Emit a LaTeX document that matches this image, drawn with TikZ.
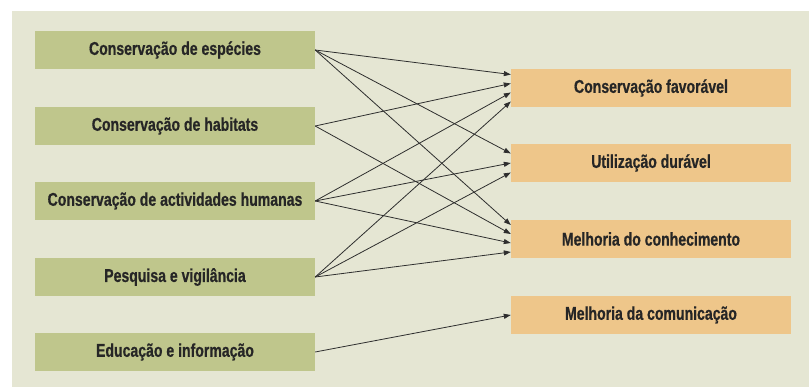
\documentclass[tikz,border=0pt]{standalone}
\usepackage{fontspec}
\setmainfont{Liberation Sans}[FakeStretch=0.76, BoldFeatures={FakeBold=0.6}]
\usetikzlibrary{arrows.meta}
\definecolor{bgc}{HTML}{E5E6D3}
\definecolor{leftc}{HTML}{BFC68C}
\definecolor{rightc}{HTML}{EEC68A}
\definecolor{txtc}{HTML}{262626}
\definecolor{arrc}{HTML}{2E2E2E}
\tikzset{
  srcbox/.style={fill=leftc, draw=none, minimum width=280pt, minimum height=38pt, inner sep=0pt,
    font=\bfseries\fontsize{18.5}{21}\selectfont, text=txtc},
  dstbox/.style={fill=rightc, draw=none, minimum width=280pt, minimum height=38pt, inner sep=0pt,
    font=\bfseries\fontsize{18.5}{21}\selectfont, text=txtc},
  conn/.style={draw=arrc, line width=0.8pt, -{Triangle[length=7pt,width=5pt]}}
}
\begin{document}
\begin{tikzpicture}[x=1pt,y=-1pt]
\useasboundingbox (0,0) rectangle (809,387);
\fill[white] (0,0) rectangle (809,387);
\fill[bgc] (12,11) rectangle (809,387);
\node[srcbox] (l1) at (175,50) {Conservação de espécies};
\node[srcbox] (l2) at (175,126) {Conservação de habitats};
\node[srcbox] (l3) at (175,201) {Conservação de actividades humanas};
\node[srcbox] (l4) at (175,277) {Pesquisa e vigilância};
\node[srcbox] (l5) at (175,352) {Educação e informação};
\node[dstbox] (r1) at (651,88) {Conservação favorável};
\node[dstbox] (r2) at (651,163) {Utilização durável};
\node[dstbox] (r3) at (651,239) {Melhoria do conhecimento};
\node[dstbox] (r4) at (651,315) {Melhoria da comunicação};
% into r1
\draw[conn] (l1.east) -- ([yshift=13.5pt]r1.west);
\draw[conn] (l2.east) -- ([yshift=4.5pt]r1.west);
\draw[conn] (l3.east) -- ([yshift=-4.5pt]r1.west);
\draw[conn] (l4.east) -- ([yshift=-13.5pt]r1.west);
% into r2
\draw[conn] (l1.east) -- ([yshift=9.5pt]r2.west);
\draw[conn] (l3.east) -- ([yshift=0pt]r2.west);
\draw[conn] (l4.east) -- ([yshift=-9.5pt]r2.west);
% into r3
\draw[conn] (l1.east) -- ([yshift=14pt]r3.west);
\draw[conn] (l2.east) -- ([yshift=5pt]r3.west);
\draw[conn] (l3.east) -- ([yshift=-4pt]r3.west);
\draw[conn] (l4.east) -- ([yshift=-13pt]r3.west);
% into r4
\draw[conn] (l5.east) -- (r4.west);
\end{tikzpicture}
\end{document}
